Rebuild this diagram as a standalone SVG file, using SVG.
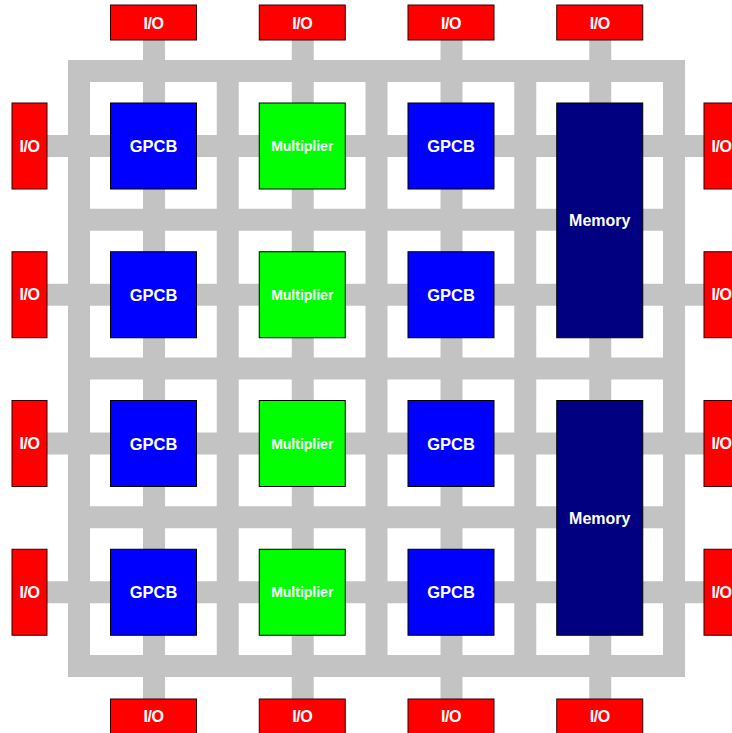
<svg xmlns="http://www.w3.org/2000/svg" width="732" height="733" viewBox="0 0 732 733">
<style>
.bar{fill:#c3c3c3}
.io{fill:#ff0000;stroke:#300;stroke-width:1}
.gp{fill:#0000ff;stroke:#000;stroke-width:1}
.mu{fill:#00ff00;stroke:#000;stroke-width:1}
.me{fill:#000080;stroke:#000;stroke-width:1}
text{font-family:"Liberation Sans",Arial,sans-serif;font-weight:bold;fill:#fff;text-anchor:middle;dominant-baseline:central}
.t16{font-size:16.5px}
.t14{font-size:14px}
.tme{font-size:16px}
.tio{font-size:16px;letter-spacing:-0.5px}
</style>
<rect width="732" height="733" fill="#fff"/>
<g id="connectors">
<rect class="bar" x="68" y="60" width="22" height="617"/>
<rect class="bar" x="216.75" y="60" width="22" height="617"/>
<rect class="bar" x="365.5" y="60" width="22" height="617"/>
<rect class="bar" x="514.25" y="60" width="22" height="617"/>
<rect class="bar" x="663" y="60" width="22" height="617"/>
<rect class="bar" x="68" y="60" width="617" height="22"/>
<rect class="bar" x="68" y="208.75" width="617" height="22"/>
<rect class="bar" x="68" y="357.5" width="617" height="22"/>
<rect class="bar" x="68" y="506.25" width="617" height="22"/>
<rect class="bar" x="68" y="655" width="617" height="22"/>
<rect class="bar" x="143" y="40" width="22" height="659"/>
<rect class="bar" x="291.75" y="40" width="22" height="659"/>
<rect class="bar" x="440.5" y="40" width="22" height="659"/>
<rect class="bar" x="589.25" y="40" width="22" height="659"/>
<rect class="bar" x="47" y="135" width="657" height="22"/>
<rect class="bar" x="47" y="283.75" width="657" height="22"/>
<rect class="bar" x="47" y="432.5" width="657" height="22"/>
<rect class="bar" x="47" y="581.25" width="657" height="22"/>
</g>
<g id="io-t1"><rect class="io" x="110.5" y="5" width="86" height="35"/><text class="tio" x="153.5" y="23">I/O</text></g>
<g id="io-t2"><rect class="io" x="259.25" y="5" width="86" height="35"/><text class="tio" x="302.25" y="23">I/O</text></g>
<g id="io-t3"><rect class="io" x="408" y="5" width="86" height="35"/><text class="tio" x="451" y="23">I/O</text></g>
<g id="io-t4"><rect class="io" x="556.75" y="5" width="86" height="35"/><text class="tio" x="599.75" y="23">I/O</text></g>
<g id="io-b1"><rect class="io" x="110.5" y="699" width="86" height="35"/><text class="tio" x="153.5" y="716.5">I/O</text></g>
<g id="io-b2"><rect class="io" x="259.25" y="699" width="86" height="35"/><text class="tio" x="302.25" y="716.5">I/O</text></g>
<g id="io-b3"><rect class="io" x="408" y="699" width="86" height="35"/><text class="tio" x="451" y="716.5">I/O</text></g>
<g id="io-b4"><rect class="io" x="556.75" y="699" width="86" height="35"/><text class="tio" x="599.75" y="716.5">I/O</text></g>
<g id="io-l1"><rect class="io" x="12" y="103" width="35" height="86"/><text class="tio" x="29.5" y="146">I/O</text></g>
<g id="io-l2"><rect class="io" x="12" y="251.75" width="35" height="86"/><text class="tio" x="29.5" y="294.75">I/O</text></g>
<g id="io-l3"><rect class="io" x="12" y="400.5" width="35" height="86"/><text class="tio" x="29.5" y="443.5">I/O</text></g>
<g id="io-l4"><rect class="io" x="12" y="549.25" width="35" height="86"/><text class="tio" x="29.5" y="592.25">I/O</text></g>
<g id="io-r1"><rect class="io" x="704" y="103" width="35" height="86"/><text class="tio" x="721.5" y="146">I/O</text></g>
<g id="io-r2"><rect class="io" x="704" y="251.75" width="35" height="86"/><text class="tio" x="721.5" y="294.75">I/O</text></g>
<g id="io-r3"><rect class="io" x="704" y="400.5" width="35" height="86"/><text class="tio" x="721.5" y="443.5">I/O</text></g>
<g id="io-r4"><rect class="io" x="704" y="549.25" width="35" height="86"/><text class="tio" x="721.5" y="592.25">I/O</text></g>
<g id="gpcb-11"><rect class="gp" x="110.5" y="103" width="86" height="86"/><text class="t16" x="153.5" y="146">GPCB</text></g>
<g id="gpcb-21"><rect class="gp" x="110.5" y="251.75" width="86" height="86"/><text class="t16" x="153.5" y="294.75">GPCB</text></g>
<g id="gpcb-31"><rect class="gp" x="110.5" y="400.5" width="86" height="86"/><text class="t16" x="153.5" y="443.5">GPCB</text></g>
<g id="gpcb-41"><rect class="gp" x="110.5" y="549.25" width="86" height="86"/><text class="t16" x="153.5" y="592.25">GPCB</text></g>
<g id="mult-1"><rect class="mu" x="259.25" y="103" width="86" height="86"/><text class="t14" x="302.25" y="146">Multiplier</text></g>
<g id="mult-2"><rect class="mu" x="259.25" y="251.75" width="86" height="86"/><text class="t14" x="302.25" y="294.75">Multiplier</text></g>
<g id="mult-3"><rect class="mu" x="259.25" y="400.5" width="86" height="86"/><text class="t14" x="302.25" y="443.5">Multiplier</text></g>
<g id="mult-4"><rect class="mu" x="259.25" y="549.25" width="86" height="86"/><text class="t14" x="302.25" y="592.25">Multiplier</text></g>
<g id="gpcb-13"><rect class="gp" x="408" y="103" width="86" height="86"/><text class="t16" x="451" y="146">GPCB</text></g>
<g id="gpcb-23"><rect class="gp" x="408" y="251.75" width="86" height="86"/><text class="t16" x="451" y="294.75">GPCB</text></g>
<g id="gpcb-33"><rect class="gp" x="408" y="400.5" width="86" height="86"/><text class="t16" x="451" y="443.5">GPCB</text></g>
<g id="gpcb-43"><rect class="gp" x="408" y="549.25" width="86" height="86"/><text class="t16" x="451" y="592.25">GPCB</text></g>
<g id="mem-1"><rect class="me" x="556.75" y="103" width="86" height="234.75"/><text class="tme" x="599.75" y="220.5">Memory</text></g>
<g id="mem-2"><rect class="me" x="556.75" y="400.5" width="86" height="234.75"/><text class="tme" x="599.75" y="518">Memory</text></g>
</svg>
